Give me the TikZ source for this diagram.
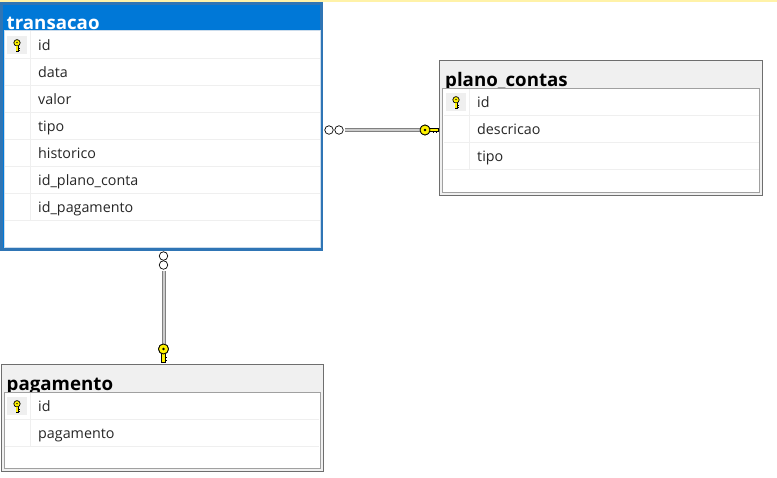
\documentclass[tikz,border=0pt]{standalone}
\usepackage{fontspec}
\setmainfont{Open Sans}
\definecolor{selblue}{HTML}{0078D7}
\definecolor{selborder}{HTML}{2F75B5}
\definecolor{titlegrey}{HTML}{F0F0F0}
\definecolor{edgegrey}{HTML}{6E6E6E}
\definecolor{innergrey}{HTML}{A0A0A0}
\definecolor{rowline}{HTML}{EFEFEF}
\definecolor{keyyellow}{HTML}{FFF200}
\definecolor{topstrip}{HTML}{FFF2A8}
\tikzset{
  tableframe/.style={draw=edgegrey,line width=1pt,fill=titlegrey,anchor=north west,inner sep=0pt,outer sep=0pt},
  tableselected/.style={draw=selborder,line width=3pt,fill=selblue,anchor=north west,inner sep=0pt,outer sep=0pt},
  tablebody/.style={draw=innergrey,line width=1pt,fill=white,anchor=north west,inner sep=0pt,outer sep=0pt},
  tabletitle/.style={anchor=base west,inner sep=0pt,font=\fontsize{18.7}{18.7}\selectfont\bfseries},
  rowtext/.style={anchor=base west,inner sep=0pt,text=black!85,font=\fontsize{14.3}{14.3}\selectfont},
  rowsep/.style={draw=rowline,line width=1pt},
  keycell/.style={fill=rowline,draw=none,minimum width=20pt,minimum height=18pt,inner sep=0pt},
  nullend/.style={circle,draw=black,line width=.7pt,fill=white,minimum size=8.5pt,inner sep=0pt,outer sep=0pt},
  relline/.style={draw=gray,line width=1pt,double=black!20,double distance=2pt},
  keyhead/.style={circle,draw=black,line width=.8pt,fill=keyyellow,minimum size=10pt,inner sep=0pt,outer sep=0pt},
  smallkey/.pic={
    \draw[black,line width=.7pt,fill=keyyellow] (0,-2.2) circle (3.2);
    \fill[black] (0,-2.4) circle (.8);
    \draw[black,line width=3pt] (0,1) -- (0,6.5);
    \draw[keyyellow,line width=1.6pt] (0,.5) -- (0,6);
    \draw[black,line width=.7pt] (1.2,3.5) -- (2.6,3.5) (1.2,5.5) -- (2.6,5.5);
  },
  bigkey/.pic={
    \draw[black,line width=4.4pt] (0,4) -- (0,13.5);
    \draw[keyyellow,line width=2.6pt] (0,3) -- (0,13);
    \draw[black,line width=1pt] (1.8,8) -- (3.4,8) (1.8,11) -- (3.4,11);
  }
}
\begin{document}
\begin{tikzpicture}[x=1pt,y=-1pt]
  \useasboundingbox (0,0) rectangle (777,477);
  \fill[white] (0,0) rectangle (777,477);
  \fill[topstrip] (0,0) rectangle (777,2);
  % transacao
  \node[tableselected,minimum width=320pt,minimum height=245.5pt] (transacao) at (1.5,3.5) {};
  \node[tabletitle,text=white] (transacaoTitle) at (6.5,29.5) {transacao};
  \node[tablebody,draw=selborder!25,minimum width=316pt,minimum height=216.5pt] (transacaoBody) at (4.5,30.5) {};
  \node[keycell] (k1) at (17,45) {};
  \pic at (17,45) {smallkey};
  \node[rowtext] (t1) at (38,50) {id};
  \node[rowtext] (t2) at (38,77) {data};
  \node[rowtext] (t3) at (38,104) {valor};
  \node[rowtext] (t4) at (38,131) {tipo};
  \node[rowtext] (t5) at (38,158) {historico};
  \node[rowtext] (t6) at (38,185) {id\_plano\_conta};
  \node[rowtext] (t7) at (38,212) {id\_pagamento};
  \foreach \y in {58,85,112,139,166,193,220}
    \draw[rowsep] (5,\y) -- (320,\y);
  \draw[rowsep] (30,31) -- (30,220);
  % plano_contas
  \node[tableframe,minimum width=323pt,minimum height=135pt] (planoContas) at (439.5,60) {};
  \node[tabletitle,text=black] (planoTitle) at (445,86) {plano\_contas};
  \node[tablebody,minimum width=317pt,minimum height=104pt] (planoBody) at (442.7,88) {};
  \node[keycell] (k2) at (456,102) {};
  \pic at (456,102) {smallkey};
  \node[rowtext] (p1) at (477,107) {id};
  \node[rowtext] (p2) at (477,134) {descricao};
  \node[rowtext] (p3) at (477,161) {tipo};
  \foreach \y in {115,142,169}
    \draw[rowsep] (444,\y) -- (758.5,\y);
  \draw[rowsep] (469,89) -- (469,169);
  % pagamento
  \node[tableframe,minimum width=322pt,minimum height=107pt] (pagamento) at (1,364) {};
  \node[tabletitle,text=black] (pagamentoTitle) at (6.5,390) {pagamento};
  \node[tablebody,minimum width=316pt,minimum height=76pt] (pagamentoBody) at (4,392) {};
  \node[keycell] (k3) at (17,406) {};
  \pic at (17,406) {smallkey};
  \node[rowtext] (g1) at (38,411) {id};
  \node[rowtext] (g2) at (38,438) {pagamento};
  \foreach \y in {419,446}
    \draw[rowsep] (5,\y) -- (319,\y);
  \draw[rowsep] (30,393) -- (30,446);
  % relationships
  \node[nullend] (c1) at (329,130) {};
  \node[nullend] (c2) at (339,130) {};
  \node[keyhead] (h1) at (425,130) {};
  \draw[relline,shorten <=2pt] (c2.east) -- (h1.west);
  \pic[rotate=90,xscale=-1] at (h1) {bigkey};
  \node[keyhead] (h1b) at (h1) {};
  \fill[black] (h1b) circle (1.4);
  \node[nullend] (c3) at (163.5,256) {};
  \node[nullend] (c4) at (163.5,265) {};
  \node[keyhead] (h2) at (163.5,349) {};
  \draw[relline,shorten <=2pt] (c4.south) -- (h2.north);
  \pic at (h2) {bigkey};
  \node[keyhead] (h2b) at (h2) {};
  \fill[black] (h2b) circle (1.4);
\end{tikzpicture}
\end{document}
